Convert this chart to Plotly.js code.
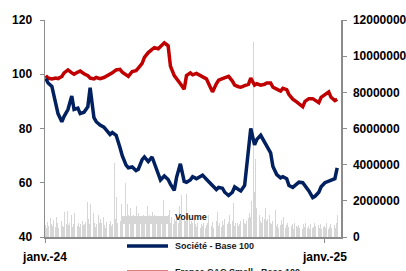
<!DOCTYPE html>
<html>
<head>
<meta charset="utf-8">
<script src="https://cdn.plot.ly/plotly-3.0.1.min.js"></script>
<style>html,body{margin:0;padding:0;background:#fff;}#chart{width:406px;height:271px;}</style>
</head>
<body>
<div id="chart"></div>
<script>
// ---- data ----
const startDate = '2024-01-02';
const endDate = '2025-01-17';
const xTickVals = ['2024-01-01', '2025-01-01'];
const xTickText = ['janv.-24', 'janv.-25'];
const legendNames = ['Volume', 'Société - Base 100', 'France CAC Small - Base 100'];

// daily volume (one value per trading day)
const volume = [
 650000, 500000, 820000, 600000, 1050000, 700000, 450000, 600000, 950000, 550000,
 1100000, 800000, 600000, 500000, 750000, 880000, 620000, 540000, 1400000, 700000,
 1450000, 900000, 650000, 800000, 1200000, 560000, 700000, 1300000, 600000, 480000,
 620000, 780000, 540000, 700000, 900000, 650000, 500000, 720000, 850000, 1950000,
 1000000, 700000, 880000, 1800000, 1300000, 600000, 750000, 540000, 700000, 1200000,
 800000, 600000, 1000000, 750000, 1100000, 650000, 500000, 820000, 600000, 700000,
 550000, 900000, 620000, 700000, 4100000, 1000000, 2200000, 600000, 800000, 1200000,
 900000, 1800000, 700000, 1100000, 3000000, 1000000, 800000, 1800000, 1200000, 1600000,
 1000000, 1100000, 800000, 1200000, 900000, 1700000, 1000000, 1300000, 800000, 1100000,
 1100000, 900000, 1200000, 1000000, 800000, 1700000, 1100000, 1000000, 1200000, 1400000,
 1000000, 900000, 1200000, 1100000, 900000, 1000000, 1200000, 900000, 1100000, 1000000,
 2050000, 800000, 1000000, 700000, 1200000, 900000, 1500000, 800000, 1100000, 700000,
 1000000, 2300000, 900000, 1200000, 800000, 1700000, 1000000, 1300000, 2300000, 1100000,
 1500000, 900000, 2400000, 1200000, 1000000, 700000, 900000, 600000, 800000, 950000,
 700000, 550000, 800000, 650000, 500000, 900000, 700000, 600000, 750000, 500000,
 650000, 800000, 550000, 1200000, 700000, 600000, 850000, 500000, 700000, 900000,
 1400000, 700000, 600000, 800000, 550000, 900000, 650000, 3500000, 1000000, 700000,
 600000, 850000, 1200000, 700000, 900000, 1900000, 800000, 600000, 750000, 800000,
 600000, 700000, 550000, 900000, 1000000, 650000, 800000, 700000, 900000, 1050000,
 1300000, 1500000, 1100000, 2000000, 10800000, 2500000, 4300000, 1400000, 1600000, 1000000,
 1200000, 900000, 800000, 1100000, 1000000, 1600000, 900000, 700000, 1000000, 1200000,
 800000, 700000, 900000, 600000, 1500000, 800000, 600000, 700000, 500000, 650000,
 950000, 600000, 700000, 1100000, 500000, 650000, 800000, 550000, 950000, 600000,
 500000, 700000, 450000, 800000, 600000, 550000, 400000, 650000, 500000, 600000,
 450000, 700000, 550000, 800000, 500000, 400000, 600000, 450000, 700000, 500000,
 550000, 750000, 450000, 600000, 400000, 650000, 500000, 700000, 450000, 550000,
 400000, 600000, 500000, 800000, 450000, 550000, 700000, 400000, 500000, 650000,
 600000, 500000, 750000, 1200000
];

// base-100 series, one value every third trading day
const societe = [
 98.5, 96.8, 95.5, 89.5, 85.5, 82.5, 84.5, 87, 92, 87,
 87.5, 85.5, 86, 88, 95, 84, 82.5, 81.3, 80.5, 79.5,
 77.8, 78.5, 77.5, 73, 70, 66.5, 65.5, 65.8, 64.5, 65,
 68.5, 69.5, 67.8, 69.5, 67, 62.5, 61, 62.5, 61.2, 59.5,
 57.2, 62, 67, 60.5, 60.2, 61, 62.2, 61.5, 62.5, 62.8,
 61.3, 60.5, 59, 57.5, 58.3, 58, 56.5, 55.3, 56.5, 58.5,
 57.5, 57, 59, 72, 80, 74, 76, 77.5, 75, 73,
 71, 66, 63, 61.8, 62.2, 61.5, 59, 58.3, 59.5, 60.2,
 60, 59, 57, 54.5, 55, 56.5, 58.5, 60, 60.5, 61,
 61.5, 65.5
];
const cacSmall = [
 99.5, 98.6, 98.3, 98.6, 98.4, 99.2, 100.5, 101.6, 100.5, 100,
 100.8, 101.2, 100.2, 99.5, 98.6, 98.3, 98.8, 98.4, 98.8, 99.2,
 99.8, 100.5, 101.6, 101.8, 100.8, 99.8, 99.2, 101, 101.3, 102.3,
 104, 106.2, 108, 109.2, 109.8, 109.4, 110.4, 111.6, 110.5, 103,
 99.5, 98.5, 96.5, 94.5, 99.5, 100.5, 99.8, 100.3, 99.5, 98.8,
 98.3, 96.5, 93.5, 96.5, 97.8, 98.4, 98.8, 99.2, 97.5, 96,
 95.4, 95.2, 95.8, 96.3, 98.6, 96, 96.5, 96, 96.3, 96.8,
 96.8, 95.2, 94.5, 93.8, 94.8, 94.3, 92.5, 90.8, 89.8, 89,
 88, 90, 91, 91, 90.5, 89.5, 91.5, 92.5, 93.5, 91.5,
 90.3, 90.8
];

// ---- dates (trading days) ----
function tradingDays(a, b) {
  const out = [];
  const d = new Date(a + 'T00:00:00Z');
  const e = new Date(b + 'T00:00:00Z');
  while (d <= e) {
    const wd = d.getUTCDay();
    if (wd !== 0 && wd !== 6) out.push(d.toISOString().slice(0, 10));
    d.setUTCDate(d.getUTCDate() + 1);
  }
  return out;
}
const days = tradingDays(startDate, endDate);
const volDates = days.slice(0, volume.length);
const lineDates = days.filter((_, i) => i % 3 === 0);

const NAVY = '#002060', RED = '#c00000', GREY = '#d6d6d6', AXIS = '#8c8c8c';
const FONT = 'Liberation Sans, Arial, sans-serif';

const traces = [
  { type: 'bar', x: volDates, y: volume, name: legendNames[0], yaxis: 'y',
    marker: { color: GREY, line: { width: 0 } }, width: 86400000 * 1.2, hoverinfo: 'skip' },
  { type: 'scatter', mode: 'lines', x: lineDates.slice(0, cacSmall.length), y: cacSmall, name: legendNames[2],
    yaxis: 'y2', line: { color: RED, width: 3.5 } },
  { type: 'scatter', mode: 'lines', x: lineDates.slice(0, societe.length), y: societe, name: legendNames[1],
    yaxis: 'y2', line: { color: NAVY, width: 3.5 } }
];

const tickFont = { family: FONT, size: 12, color: '#000', weight: 700 };
const legFont = { family: FONT, size: 9, color: '#1a1a1a', weight: 700 };
const W = 296, H = 217, L = 45, T = 20;
const px = X => (X - L) / W;
const py = Y => (T + H - Y) / H;

const layout = {
  width: 406, height: 271,
  margin: { l: 45, r: 65, t: 20, b: 34, pad: 0 },
  paper_bgcolor: '#fff', plot_bgcolor: '#fff',
  showlegend: false,
  bargap: 0,
  xaxis: {
    type: 'date', range: ['2024-01-01', '2025-01-22'],
    tickvals: xTickVals, ticktext: xTickText,
    showgrid: false, zeroline: false,
    showline: true, linecolor: AXIS, linewidth: 1.5,
    ticks: 'outside', ticklen: 4, tickcolor: AXIS, tickwidth: 1,
    tickfont: tickFont, ticklabelstandoff: 4
  },
  yaxis: {
    side: 'right', range: [0, 12000000], dtick: 2000000, tickformat: 'd',
    showgrid: false, zeroline: false,
    showline: true, linecolor: AXIS, linewidth: 1.5,
    ticks: 'outside', ticklen: 4, tickcolor: AXIS, tickwidth: 1,
    tickfont: tickFont, ticklabelstandoff: 4
  },
  yaxis2: {
    overlaying: 'y', side: 'left', range: [40, 120], dtick: 20,
    showgrid: false, zeroline: false,
    showline: true, linecolor: AXIS, linewidth: 1.5,
    ticks: 'outside', ticklen: 4, tickcolor: AXIS, tickwidth: 1,
    tickfont: tickFont, ticklabelstandoff: 5
  },
  shapes: [
    { type: 'rect', xref: 'paper', yref: 'paper', x0: px(122), x1: px(168), y0: py(224), y1: py(216),
      fillcolor: GREY, line: { width: 0 } },
    { type: 'line', xref: 'paper', yref: 'paper', x0: px(127), x1: px(168), y0: py(246), y1: py(246),
      line: { color: NAVY, width: 3.5 } },
    { type: 'line', xref: 'paper', yref: 'paper', x0: px(127), x1: px(168), y0: py(272.3), y1: py(272.3),
      line: { color: RED, width: 3.5 } }
  ],
  annotations: [
    { xref: 'paper', yref: 'paper', x: px(173), y: py(217), xanchor: 'left', yanchor: 'middle',
      text: legendNames[0], showarrow: false, font: legFont },
    { xref: 'paper', yref: 'paper', x: px(173), y: py(246), xanchor: 'left', yanchor: 'middle',
      text: legendNames[1], showarrow: false, font: legFont },
    { xref: 'paper', yref: 'paper', x: px(173), y: py(272), xanchor: 'left', yanchor: 'middle',
      text: legendNames[2], showarrow: false, font: legFont }
  ]
};

Plotly.newPlot('chart', traces, layout, { staticPlot: true, displayModeBar: false });
</script>
</body>
</html>
